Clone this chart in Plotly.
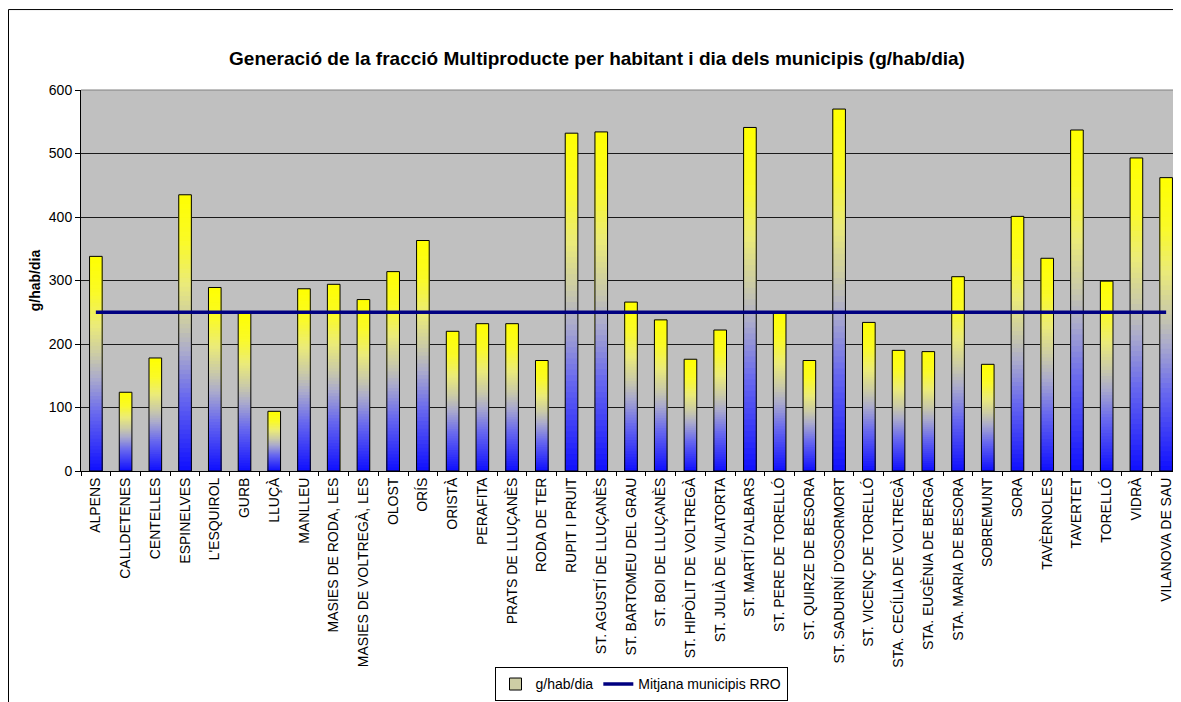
import plotly.graph_objects as go

municipis = [
    "ALPENS", "CALLDETENES", "CENTELLES", "ESPINELVES", "L'ESQUIROL", "GURB", "LLUÇÀ",
    "MANLLEU", "MASIES DE RODA, LES", "MASIES DE VOLTREGÀ, LES", "OLOST", "ORÍS", "ORISTÀ",
    "PERAFITA", "PRATS DE LLUÇANÈS", "RODA DE TER", "RUPIT I PRUIT", "ST. AGUSTÍ DE LLUÇANÈS",
    "ST. BARTOMEU DEL GRAU", "ST. BOI DE LLUÇANÈS", "ST. HIPÒLIT DE VOLTREGÀ",
    "ST. JULIÀ DE VILATORTA", "ST. MARTÍ D'ALBARS", "ST. PERE DE TORELLÓ", "ST. QUIRZE DE BESORA",
    "ST. SADURNÍ D'OSORMORT", "ST. VICENÇ DE TORELLÓ", "STA. CECÍLIA DE VOLTREGÀ",
    "STA. EUGÈNIA DE BERGA", "STA. MARIA DE BESORA", "SOBREMUNT", "SORA", "TAVÈRNOLES",
    "TAVERTET", "TORELLÓ", "VIDRÀ", "VILANOVA DE SAU",
]
g_hab_dia = [
    338, 124, 178, 435, 289, 249, 94,
    287, 294, 270, 314, 363, 220,
    232, 232, 174, 532, 534,
    266, 238, 176,
    222, 541, 249, 174,
    570, 234, 190,
    188, 306, 168, 401, 335,
    537, 299, 493, 462,
]
mitjana_rro = [250] * len(municipis)

# gradient stops (fraction of bar height from bottom -> rgb)
grad_stops = [
    (0.00, (15, 15, 255)),
    (0.27, (105, 105, 238)),
    (0.43, (170, 170, 205)),
    (0.53, (200, 200, 170)),
    (0.68, (235, 235, 120)),
    (0.83, (250, 250, 40)),
    (1.00, (255, 255, 0)),
]


def grad_color(f):
    for (f0, c0), (f1, c1) in zip(grad_stops[:-1], grad_stops[1:]):
        if f <= f1:
            t = (f - f0) / (f1 - f0) if f1 > f0 else 0
            c = [round(a + (b - a) * t) for a, b in zip(c0, c1)]
            return f"rgb({c[0]},{c[1]},{c[2]})"
    c = grad_stops[-1][1]
    return f"rgb({c[0]},{c[1]},{c[2]})"


FONT = "Liberation Sans, Arial, sans-serif"
N = 60
fig = go.Figure()

# gradient bars: overlaid bars from tallest to shortest
for k in range(N):
    frac_top = (N - k) / N
    fig.add_trace(go.Bar(
        x=municipis,
        y=[v * frac_top for v in g_hab_dia],
        marker=dict(color=grad_color((N - k - 0.5) / N), line=dict(width=0)),
        showlegend=False,
        hoverinfo="skip",
    ))

# outline
fig.add_trace(go.Bar(
    x=municipis,
    y=g_hab_dia,
    marker=dict(color="rgba(0,0,0,0)", line=dict(color="#000000", width=1)),
    showlegend=False,
    name="g/hab/dia",
))

# legend entry for bars
fig.add_trace(go.Bar(
    x=[None], y=[None],
    name="g/hab/dia",
    marker=dict(color="rgb(205,205,165)", line=dict(color="#000000", width=1)),
    showlegend=True,
))

fig.add_trace(go.Scatter(
    x=municipis,
    y=mitjana_rro,
    mode="lines",
    name="Mitjana municipis RRO",
    line=dict(color="#000080", width=3.5),
))

# page has 8px body margin -> figure coords = page coords - 8
OFF = 8
W, H = 1181 - OFF, 702 - OFF
L, T, R, B = 81 - OFF, 90 - OFF, 1181 - OFF, 476 - OFF
pw, ph = R - L, B - T

fig.update_layout(
    width=W, height=H,
    margin=dict(l=L, r=W - R, t=T, b=H - B),
    paper_bgcolor="#ffffff",
    plot_bgcolor="#c0c0c0",
    barmode="overlay",
    bargap=0.575,
    font=dict(family=FONT, size=14, color="#000000"),
    title=dict(
        text="<b>Generació de la fracció Multiproducte per habitant i dia dels municipis (g/hab/dia)</b>",
        font=dict(family=FONT, size=19, color="#000000"),
        x=(597 - OFF - L) / pw, xref="paper", xanchor="center",
        y=1 - (58 - OFF) / H, yref="container", yanchor="middle",
    ),
    xaxis=dict(
        type="category",
        tickangle=-90,
        tickson="boundaries",
        ticks="outside",
        ticklen=4,
        tickcolor="#000000",
        showline=True,
        linecolor="#000000",
        linewidth=1,
        showgrid=False,
        tickfont=dict(family=FONT, size=14, color="#000000"),
        range=[-0.5, len(municipis) - 0.5],
    ),
    yaxis=dict(
        range=[0, 600],
        dtick=100,
        ticks="outside",
        ticklen=5,
        tickcolor="#000000",
        showline=True,
        linecolor="#000000",
        linewidth=1,
        showgrid=True,
        gridcolor="#1a1a1a",
        gridwidth=1,
        zeroline=False,
        tickfont=dict(family=FONT, size=14, color="#000000"),
        title=dict(text="<b>g/hab/dia</b>", font=dict(family=FONT, size=14, color="#000000"), standoff=4),
    ),
    legend=dict(
        orientation="h",
        x=(641 - OFF - L) / pw, xanchor="center",
        y=(B - (675 - OFF)) / ph, yanchor="top",
        bgcolor="#ffffff",
        bordercolor="#000000",
        borderwidth=1,
        font=dict(family=FONT, size=14, color="#000000"),
        itemwidth=30,
        tracegroupgap=0,
    ),
    shapes=[
        # outer chart frame: left and top edges
        dict(type="line", xref="paper", yref="paper",
             x0=(0.5 - L) / pw, x1=(0.5 - L) / pw,
             y0=(B - (H + 20)) / ph, y1=(B - 0.5) / ph,
             line=dict(color="#000000", width=1), layer="below"),
        dict(type="line", xref="paper", yref="paper",
             x0=(0.5 - L) / pw, x1=(W + 20 - L) / pw,
             y0=(B - 0.5) / ph, y1=(B - 0.5) / ph,
             line=dict(color="#000000", width=1), layer="below"),
        # top edge of plot area
        dict(type="line", xref="paper", yref="paper", x0=0, x1=1, y0=1, y1=1,
             line=dict(color="#808080", width=1)),
    ],
)

fig.write_html("out.html")
